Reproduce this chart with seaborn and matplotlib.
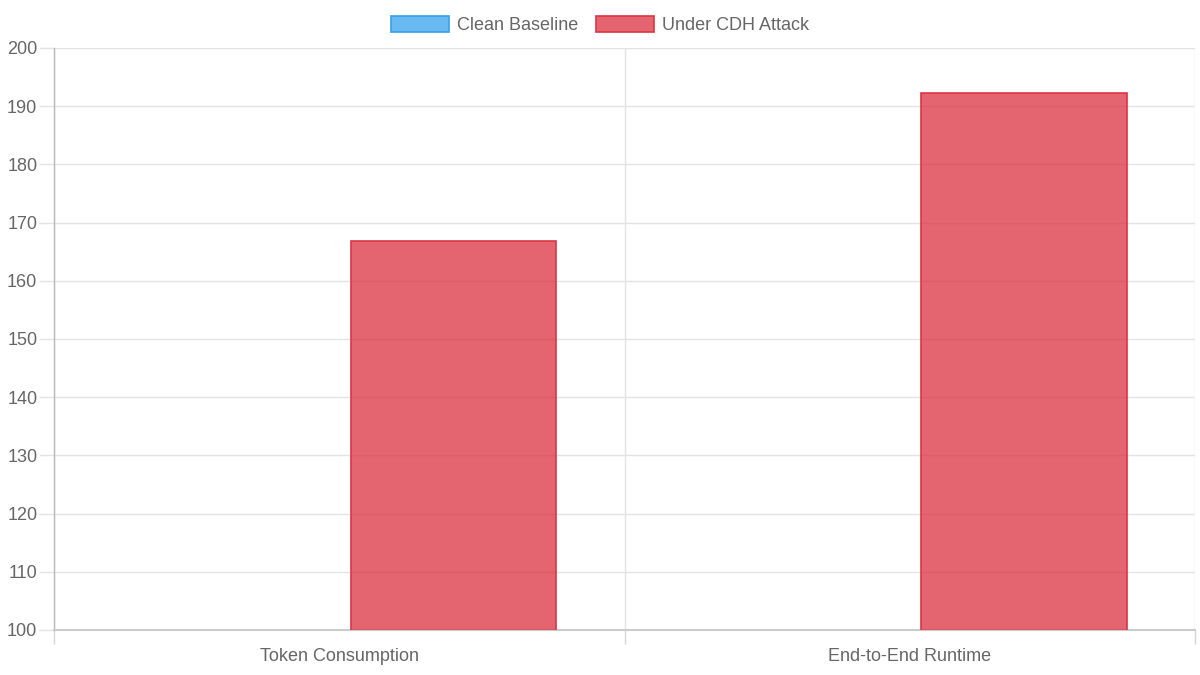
import numpy as np
import matplotlib
matplotlib.use("Agg")
import matplotlib.pyplot as plt
import pandas as pd
import seaborn as sns
from matplotlib.patches import Patch

categorias = ["Token Consumption", "End-to-End Runtime"]
series = ["Clean Baseline", "Under CDH Attack"]
valores_clean = [100, 100]
valores_attack = [166.8, 192.3]

cor_azul = (54/255, 162/255, 235/255)
cor_vermelho = (220/255, 53/255, 69/255)

df = pd.DataFrame({
    "categoria": categorias * 2,
    "serie": [series[0]] * 2 + [series[1]] * 2,
    "valor": valores_clean + valores_attack,
})

sns.set_theme(style="white")
plt.rcParams['font.family'] = ['Liberation Sans', 'DejaVu Sans']

fig = plt.figure(figsize=(12, 6.75), dpi=100)
ax = fig.add_axes([0.045, 0.0667, 0.951, 0.8622])

sns.barplot(data=df, x="categoria", y="valor", hue="serie",
            palette={series[0]: cor_azul, series[1]: cor_vermelho},
            saturation=1, errorbar=None,
            width=0.8, gap=0.1, ax=ax, legend=False, zorder=3)

# barras da baseline ficam com altura zero (valor = minimo do eixo)
for p in ax.containers[0]:
    p.set_facecolor((*cor_azul, 0.75))
    p.set_edgecolor(cor_azul)
    p.set_linewidth(0)
    p.set_visible(False)
for p in ax.containers[1]:
    p.set_facecolor((*cor_vermelho, 0.77))
    p.set_edgecolor(cor_vermelho)
    p.set_linewidth(1.2)

ax.set_ylim(100, 200)
ax.set_xlim(-0.5, 1.5)
ax.set_yticks(np.arange(100, 201, 10))
ax.set_xlabel("")
ax.set_ylabel("")

texto = "#666666"
ax.tick_params(axis="y", which="major", length=11, width=1, color="#e3e3e3",
               labelsize=13, labelcolor=texto, pad=1, left=True)
ax.tick_params(axis="x", which="major", length=0, labelsize=13,
               labelcolor=texto, pad=13)
ax.set_xticks([-0.5, 0.5, 1.5], minor=True)
ax.tick_params(axis="x", which="minor", length=10, width=1, color="#d6d6d6",
               bottom=True)

ax.grid(axis="y", which="major", color="#e3e3e3", linewidth=1, zorder=0)
ax.grid(axis="x", which="minor", color="#e3e3e3", linewidth=1, zorder=0)
ax.grid(axis="x", which="major", visible=False)
ax.set_axisbelow(True)

for lado in ["top", "right"]:
    ax.spines[lado].set_visible(False)
ax.spines["left"].set_color("#b8b8b8")
ax.spines["bottom"].set_color("#cccccc")
ax.spines["left"].set_linewidth(1)
ax.spines["bottom"].set_linewidth(1.5)

handles = [
    Patch(facecolor=(*cor_azul, 0.75), edgecolor=cor_azul, linewidth=1.2, label=series[0]),
    Patch(facecolor=(*cor_vermelho, 0.77), edgecolor=cor_vermelho, linewidth=1.2, label=series[1]),
]
fig.legend(handles=handles, loc="upper center", bbox_to_anchor=(0.5, 1.001),
           ncol=2, frameon=False, fontsize=13, labelcolor=texto,
           handlelength=3.2, handleheight=1.0, handletextpad=0.45, columnspacing=1.0)

fig.savefig("out.png", dpi=100)
